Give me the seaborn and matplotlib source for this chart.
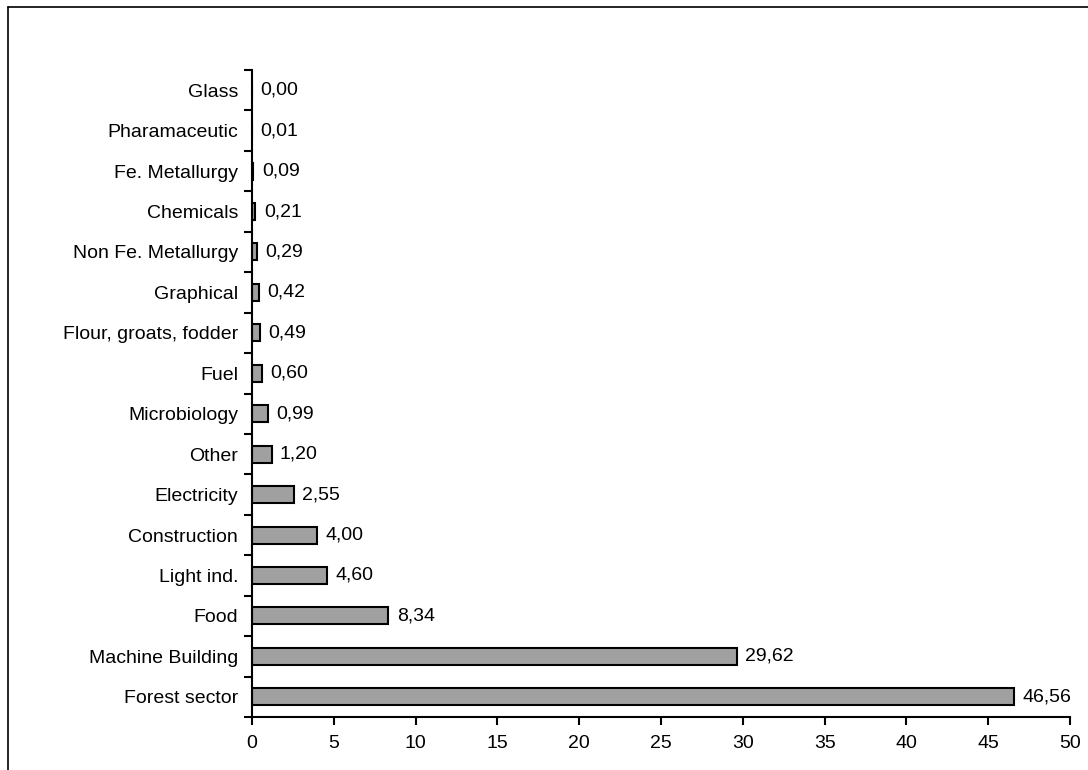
import numpy as np
import pandas as pd
import seaborn as sns
import matplotlib.pyplot as plt
from matplotlib.lines import Line2D

# Data (top to bottom as drawn)
sectors = ['Glass', 'Pharamaceutic', 'Fe. Metallurgy', 'Chemicals', 'Non Fe. Metallurgy',
           'Graphical', 'Flour, groats, fodder', 'Fuel', 'Microbiology', 'Other',
           'Electricity', 'Construction', 'Light ind.', 'Food', 'Machine Building',
           'Forest sector']
shares = [0.00, 0.01, 0.09, 0.21, 0.29, 0.42, 0.49, 0.60, 0.99, 1.20,
          2.55, 4.00, 4.60, 8.34, 29.62, 46.56]
x_ticks = [0, 5, 10, 15, 20, 25, 30, 35, 40, 45, 50]

df = pd.DataFrame({'sector': sectors, 'share': shares})

sns.set_style('white')
plt.rcParams['font.family'] = ['Liberation Sans', 'DejaVu Sans']
plt.rcParams['text.color'] = 'black'
plt.rcParams['xtick.color'] = 'black'
plt.rcParams['ytick.color'] = 'black'

fs = 14

fig = plt.figure(figsize=(10.88, 7.70), dpi=100)
ax = fig.add_axes([0.2316, 0.0688, 0.7519, 0.8403])

sns.barplot(data=df, x='share', y='sector', orient='h', order=sectors,
            color='#a0a0a0', saturation=1, edgecolor='black', linewidth=1.5,
            width=0.42, ax=ax)

labels = [f'{v:.2f}'.replace('.', ',') for v in shares]
ax.bar_label(ax.containers[0], labels=labels, padding=6, fontsize=fs, color='black')

ax.set_xlim(0, 50)
ax.set_xticks(x_ticks)
ax.set_ylim(len(sectors) - 0.5, -0.5)
ax.set_xlabel('')
ax.set_ylabel('')

for s in ['top', 'right']:
    ax.spines[s].set_visible(False)
for s in ['left', 'bottom']:
    ax.spines[s].set_linewidth(1.5)
    ax.spines[s].set_color('black')

ax.tick_params(axis='x', direction='out', length=6, width=1.5, labelsize=fs, pad=7,
               bottom=True, colors='black')
ax.tick_params(axis='y', which='major', length=0, labelsize=fs, pad=10, colors='black')
ax.set_yticks(np.arange(-0.5, len(sectors), 1.0), minor=True)
ax.tick_params(axis='y', which='minor', direction='out', length=6, width=1.5, left=True,
               colors='black')

# frame lines around the chart area (top and left)
fig.add_artist(Line2D([8 / 1088, 1.0], [1 - 7 / 770, 1 - 7 / 770], color='black', lw=1.2,
                      transform=fig.transFigure))
fig.add_artist(Line2D([8 / 1088, 8 / 1088], [0.0, 1 - 7 / 770], color='black', lw=1.2,
                      transform=fig.transFigure))

fig.savefig('out.png', dpi=100)
